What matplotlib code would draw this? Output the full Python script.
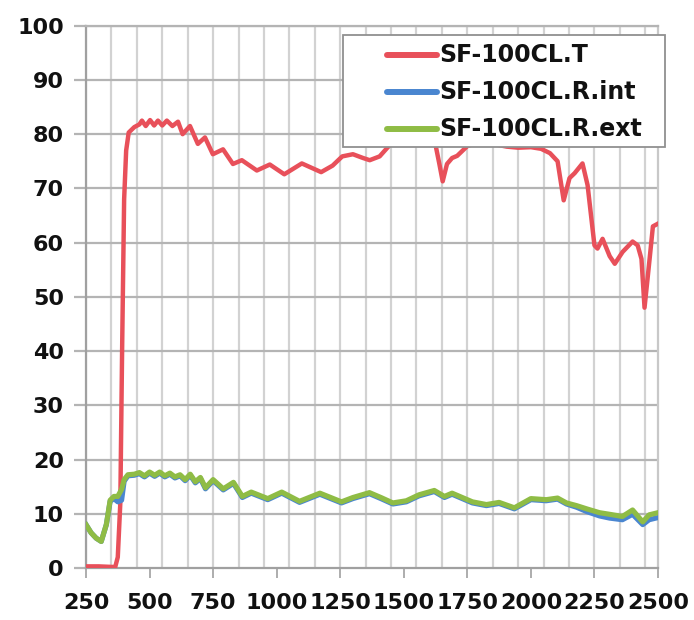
import matplotlib
matplotlib.use("Agg")
import matplotlib.pyplot as plt
from matplotlib.lines import Line2D
from matplotlib.patches import Rectangle

# ---- data ----
wl_T = [250, 300, 350, 365, 375, 385, 392, 400, 408, 418, 440, 460, 470, 485, 502, 518, 533, 550, 568, 590,
        612, 630, 659, 690, 718, 749, 789, 828, 863, 922, 973, 1030, 1099, 1175, 1220, 1258, 1300, 1340, 1366,
        1405, 1445, 1480, 1520, 1560, 1600, 1625, 1640, 1653, 1670, 1690, 1710, 1750, 1800, 1850, 1905, 1950,
        2000, 2040, 2075, 2105, 2129, 2152, 2172, 2203, 2223, 2250, 2262, 2282, 2310, 2330, 2361, 2400, 2420,
        2435, 2447, 2467, 2480, 2500]
T_vals = [0.3, 0.3, 0.2, 0.2, 2, 12, 40, 68, 77, 80.3, 81.3, 81.8, 82.5, 81.5, 82.6, 81.6, 82.5, 81.6, 82.5, 81.5,
          82.3, 80.0, 81.5, 78.2, 79.4, 76.3, 77.2, 74.5, 75.2, 73.3, 74.4, 72.6, 74.6, 73.0, 74.2, 75.9, 76.3,
          75.6, 75.2, 75.9, 78.0, 79.5, 80.0, 80.5, 79.5, 78.0, 74.5, 71.3, 74.5, 75.6, 76.0, 77.8, 78.6, 78.2,
          77.7, 77.5, 77.6, 77.3, 76.5, 75.0, 67.8, 71.9, 72.8, 74.6, 70.6, 59.5, 58.9, 60.7, 57.5, 56.1, 58.3,
          60.2, 59.5, 57.0, 48.0, 57.0, 63.0, 63.5]

wl_R = [250, 270, 290, 310, 330, 345, 360, 375, 390, 400, 415, 440, 460, 480, 500, 520, 540, 560, 580, 600,
        620, 640, 660, 680, 700, 720, 750, 790, 830, 865, 900, 965, 1020, 1090, 1170, 1255, 1300, 1365, 1410,
        1457, 1510, 1560, 1620, 1660, 1690, 1720, 1770, 1825, 1875, 1935, 2000, 2060, 2105, 2140, 2180, 2220,
        2270, 2310, 2360, 2400, 2440, 2465, 2500]
R_ext = [8.0, 6.5, 5.5, 4.9, 8.0, 12.5, 13.2, 13.2, 14.5, 16.3, 17.2, 17.3, 17.6, 17.0, 17.7, 17.1, 17.7, 17.0,
         17.5, 16.8, 17.2, 16.3, 17.3, 15.9, 16.7, 14.8, 16.3, 14.6, 15.8, 13.2, 14.0, 12.8, 14.0, 12.3, 13.8,
         12.2, 13.0, 13.9, 13.0, 12.0, 12.4, 13.5, 14.3, 13.2, 13.8, 13.2, 12.2, 11.7, 12.1, 11.1, 12.8, 12.6,
         12.9, 12.0, 11.5, 10.9, 10.2, 9.9, 9.5, 10.7, 8.5, 9.8, 10.2]
R_int = [8.0, 6.5, 5.5, 4.9, 8.0, 12.3, 12.8, 12.2, 12.5, 16.0, 17.0, 17.1, 17.4, 16.8, 17.5, 16.9, 17.5, 16.8,
         17.3, 16.6, 17.0, 16.1, 17.1, 15.7, 16.5, 14.6, 16.1, 14.4, 15.6, 13.0, 13.8, 12.6, 13.8, 12.1, 13.6,
         12.0, 12.8, 13.7, 12.8, 11.8, 12.2, 13.3, 14.1, 13.0, 13.6, 13.0, 12.0, 11.5, 11.9, 10.9, 12.6, 12.4,
         12.7, 11.8, 11.2, 10.4, 9.6, 9.2, 8.9, 9.9, 8.0, 8.9, 9.3]

labels = ["SF-100CL.T", "SF-100CL.R.int", "SF-100CL.R.ext"]
colors = ["#e8505a", "#4a86d0", "#8fbc45"]
xticks = [250, 500, 750, 1000, 1250, 1500, 1750, 2000, 2250, 2500]
yticks = [0, 10, 20, 30, 40, 50, 60, 70, 80, 90, 100]

W, H = 694, 620
fig = plt.figure(figsize=(W/100, H/100), dpi=100)
ax = fig.add_axes([86/W, 1-568/H, (658-86)/W, (568-25.7)/H])

l1, = ax.plot(wl_T, T_vals, color=colors[0], lw=3.2, solid_joinstyle="round", zorder=3)
l2, = ax.plot(wl_R, R_int, color=colors[1], lw=3.7, solid_joinstyle="round", zorder=4)
l3, = ax.plot(wl_R, R_ext, color=colors[2], lw=3.7, solid_joinstyle="round", zorder=5)

ax.set_xlim(250, 2500)
ax.set_ylim(0, 100)

# grid
for gx in range(250, 2500, 100):
    ax.axvline(gx, color="#d2d2d2", lw=1.6, zorder=1)
for gy in yticks[1:]:
    ax.axhline(gy, color="#b4b4b4", lw=1.6, zorder=1)

ax.set_xticks(xticks)
ax.set_yticks(yticks)
ax.set_xticklabels([str(v) for v in xticks])
ax.set_yticklabels([str(v) for v in yticks])
for lab in ax.get_xticklabels() + ax.get_yticklabels():
    lab.set_fontweight("bold")
    lab.set_fontsize(16)
    lab.set_color("#111111")
ax.tick_params(axis="x", length=7, width=1.2, color="#a0a0a0", pad=11)
ax.tick_params(axis="y", length=9, width=1.6, color="#b4b4b4", pad=7)

for s in ["left", "bottom"]:
    ax.spines[s].set_color("#a0a0a0")
    ax.spines[s].set_linewidth(1.6)
ax.spines["right"].set_color("#c8c8c8")
ax.spines["right"].set_linewidth(1.6)
ax.spines["top"].set_color("#b4b4b4")
ax.spines["top"].set_linewidth(1.6)

# legend (drawn manually in figure pixel coordinates)
def fx(px):
    return px / W

def fy(py):
    return 1 - py / H

fig.add_artist(Rectangle((fx(343), fy(147)), fx(665) - fx(343), fy(35) - fy(147),
                         transform=fig.transFigure, facecolor="white", edgecolor="#909090",
                         linewidth=1.3, zorder=10))
entry_y = [55, 92, 129]
for lab, col, yy in zip(labels, colors, entry_y):
    fig.add_artist(Line2D([fx(387), fx(437)], [fy(yy), fy(yy)], transform=fig.transFigure,
                          color=col, lw=4.3, solid_capstyle="round", zorder=11))
    fig.text(fx(439), fy(yy), lab, ha="left", va="center", fontsize=17, fontweight="bold",
             color="#111111", zorder=12)

fig.savefig("out.png", dpi=100, facecolor="white")
